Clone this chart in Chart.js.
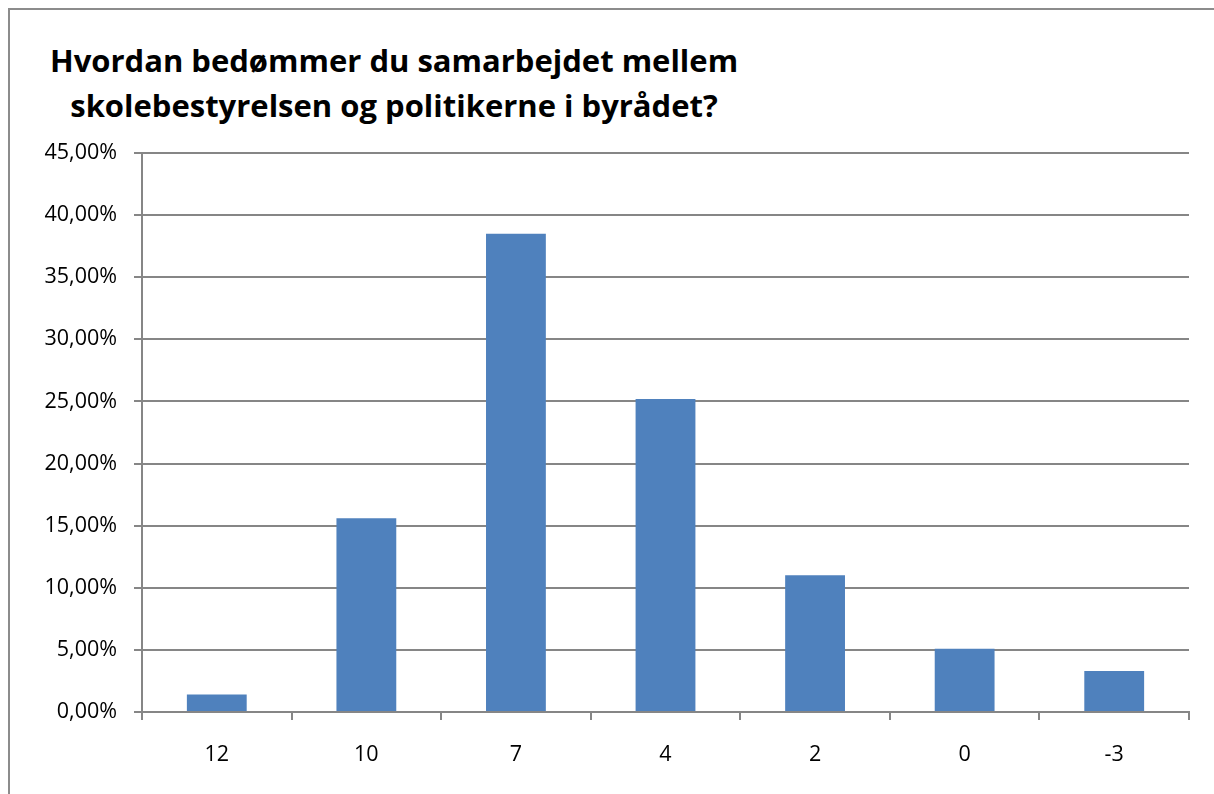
<!DOCTYPE html>
<html>
<head>
<meta charset="utf-8">
<script src="https://cdn.jsdelivr.net/npm/chart.js@4"></script>
<style>
  html, body { margin: 0; padding: 0; background: #fff; overflow: hidden; }
  #frame {
    position: absolute; left: 8px; top: 8px; width: 1300px; height: 900px;
    border-left: 2px solid #8c8c8c; border-top: 2px solid #8c8c8c;
  }
  #title {
    position: absolute; left: 0; top: 38px; width: 788px;
    text-align: center; font: bold 31px "Open Sans", sans-serif;
    line-height: 45px; color: #000;
  }
  #wrap { position: absolute; left: 0; top: 0; width: 1214px; height: 794px; }
</style>
</head>
<body>
<div id="frame"></div>
<div id="title">Hvordan bedømmer du samarbejdet mellem<br>skolebestyrelsen og politikerne i byrådet?</div>
<div id="wrap"><canvas id="chart" width="1214" height="794"></canvas></div>
<script>
const categories = ["12", "10", "7", "4", "2", "0", "-3"];
const shares = [1.4, 15.6, 38.5, 25.2, 11.0, 5.1, 3.3];
const yTicks = [0, 5, 10, 15, 20, 25, 30, 35, 40, 45];

const axisGray = "#868686";
const tickFont = { family: "Open Sans", size: 21.5 };

new Chart(document.getElementById("chart"), {
  type: "bar",
  data: {
    labels: categories,
    datasets: [{
      data: shares,
      backgroundColor: "#4F81BD",
      barPercentage: 0.4,
      categoryPercentage: 1
    }]
  },
  options: {
    responsive: false,
    animation: false,
    layout: { padding: { left: 0, top: 153, right: 25, bottom: 0 } },
    plugins: { legend: { display: false }, tooltip: { enabled: false } },
    scales: {
      x: {
        afterFit: s => { s.height = 82; },
        grid: { offset: true, drawOnChartArea: false, color: axisGray, lineWidth: 2, tickLength: 8 },
        border: { color: axisGray, width: 2 },
        ticks: { color: "#000", font: tickFont, padding: 22 }
      },
      y: {
        min: 0,
        max: 45,
        afterFit: s => { s.width = 142; },
        afterBuildTicks: s => { s.ticks = yTicks.map(v => ({ value: v })); },
        grid: { color: axisGray, lineWidth: 2, tickLength: 8 },
        border: { color: axisGray, width: 2 },
        ticks: {
          color: "#000", font: tickFont, padding: 17,
          callback: v => v.toFixed(2).replace(".", ",") + "%"
        }
      }
    }
  }
});
</script>
</body>
</html>
